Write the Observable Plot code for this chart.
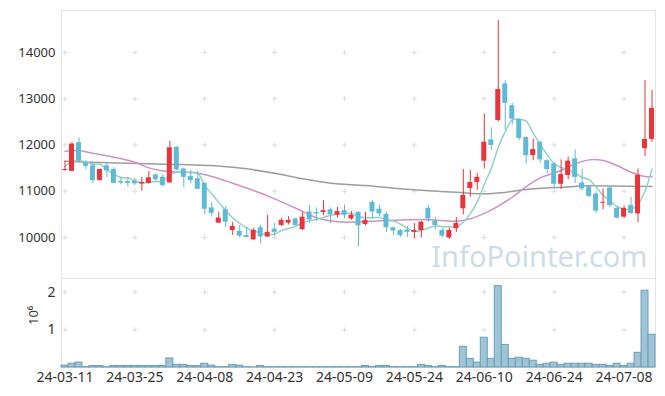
<!DOCTYPE html>
<html>
<head>
<meta charset="utf-8">
<script src="https://cdn.jsdelivr.net/npm/d3@7"></script>
<script src="https://cdn.jsdelivr.net/npm/@observablehq/plot@0.6"></script>
<style>
  body { margin: 0; background: #fff; }
  #chart { width: 665px; height: 396px; overflow: hidden; font-family: "Noto Sans", sans-serif; }
  #chart svg { display: block; }
  #chart svg.vol { margin-top: -1px; }
</style>
</head>
<body>
<div id="chart"></div>
<script>
// ---- data ----
const dates = [
  "24-03-11","24-03-12","24-03-13","24-03-14","24-03-15","24-03-18","24-03-19","24-03-20","24-03-21","24-03-22",
  "24-03-25","24-03-26","24-03-27","24-03-28","24-03-29","24-04-01","24-04-02","24-04-03","24-04-04","24-04-05",
  "24-04-08","24-04-09","24-04-11","24-04-12","24-04-15","24-04-16","24-04-17","24-04-18","24-04-19","24-04-22",
  "24-04-23","24-04-24","24-04-25","24-04-26","24-04-29","24-04-30","24-05-02","24-05-03","24-05-07","24-05-08",
  "24-05-09","24-05-10","24-05-13","24-05-14","24-05-16","24-05-17","24-05-20","24-05-21","24-05-22","24-05-23",
  "24-05-24","24-05-27","24-05-28","24-05-29","24-05-30","24-05-31","24-06-03","24-06-04","24-06-05","24-06-07",
  "24-06-10","24-06-11","24-06-12","24-06-13","24-06-14","24-06-17","24-06-18","24-06-19","24-06-20","24-06-21",
  "24-06-24","24-06-25","24-06-26","24-06-27","24-06-28","24-07-01","24-07-02","24-07-03","24-07-04","24-07-05",
  "24-07-08","24-07-09","24-07-10","24-07-11","24-07-12"
];
const open = [
  11450,11430,12050,11610,11550,11230,11550,11470,11210,11210,
  11220,11160,11170,11350,11300,11180,11950,11480,11320,11270,
  11170,10640,10310,10600,10150,10130,10040,9950,10210,10010,
  10180,10260,10310,10400,10170,10550,10540,10540,10600,10480,
  10580,10400,10540,10280,10760,10610,10500,10210,10150,10160,
  10110,10150,10630,10350,10150,9990,10190,10620,11060,11190,
  11650,12110,12530,13320,12850,12550,12160,11770,12060,11660,
  11590,11150,11340,11700,11180,11090,10940,10740,11070,10630,
  10440,10690,10510,11920,12120
];
const high = [
  11650,12050,12150,11660,11600,11480,11600,11510,11300,11300,
  11280,11300,11430,11380,11360,12080,11960,11500,11450,11430,
  11180,10760,10540,10670,10330,10260,10220,10200,10260,10480,
  10300,10420,10450,10410,10550,10690,10640,10800,10640,10650,
  10700,10560,10560,10540,10800,10700,10550,10220,10170,10240,
  10300,10350,10690,10440,10190,10200,10430,11470,11450,11380,
  12670,12370,14690,13390,12900,12570,12180,12130,12070,11680,
  11620,11680,11740,11890,11480,11110,10990,11050,11100,10660,
  10680,10870,11480,13390,13180
];
const low = [
  11430,11430,11620,11460,11160,11220,11300,11160,11140,11090,
  11120,11000,11150,11220,11090,11170,11440,11080,11160,11030,
  10490,10440,10300,10210,10040,9990,9990,9930,9860,10000,
  10030,10240,10270,10250,10150,10300,10340,10470,10300,10420,
  10400,10370,9790,10250,10400,10450,10110,10040,10000,10000,
  9980,9990,10330,10170,9990,9960,10110,10490,10870,11020,
  11480,11880,12500,12310,12430,12100,11590,11660,11610,11380,
  11070,11030,11250,11170,11010,10860,10520,10600,10650,10400,
  10410,10500,10320,11750,12060
];
const close = [
  11470,12020,11660,11540,11230,11470,11440,11170,11180,11170,
  11160,11190,11290,11250,11120,11940,11460,11300,11230,11040,
  10610,10520,10420,10330,10240,10030,10000,10150,10010,10110,
  10110,10370,10370,10260,10440,10380,10510,10580,10490,10560,
  10480,10480,10250,10370,10550,10510,10210,10140,10040,10110,
  10150,10330,10400,10260,10030,10150,10300,10910,11190,11300,
  12060,11990,13200,12900,12560,12140,11770,11900,11680,11470,
  11150,11360,11650,11300,11050,10890,10570,10760,10690,10420,
  10630,10520,11340,12120,12790
];
const volume = [
  50000,100000,130000,10000,40000,40000,10000,40000,40000,40000,
  40000,40000,40000,40000,40000,240000,70000,70000,40000,40000,
  100000,50000,10000,10000,70000,50000,10000,5000,40000,10000,
  10000,10000,10000,10000,10000,10000,10000,10000,10000,10000,
  10000,10000,10000,40000,10000,40000,40000,10000,10000,10000,
  10000,70000,40000,10000,40000,10000,10000,550000,230000,130000,
  790000,230000,2160000,600000,230000,260000,230000,180000,70000,100000,
  130000,70000,100000,100000,100000,100000,70000,70000,40000,100000,
  40000,100000,390000,2040000,870000
];
// 5-day moving average (teal), one value per day
const ma5 = [
  11533,11641,11663,11626,11584,11584,11468,11370,11298,11286,
  11224,11174,11198,11212,11202,11358,11412,11414,11410,11394,
  11128,10940,10764,10584,10424,10308,10204,10150,10086,10060,
  10076,10150,10194,10244,10310,10364,10392,10434,10480,10504,
  10524,10518,10452,10428,10426,10432,10378,10356,10290,10202,
  10130,10154,10206,10250,10234,10234,10228,10330,10516,10770,
  11152,11490,11948,12290,12542,12558,12514,12254,12010,11792,
  11594,11512,11462,11386,11302,11250,11092,10914,10792,10666,
  10614,10604,10720,11006,11480
];
// 20-day moving average (pink), read at these day indices
const ma20Day = [0,2,4,7,10,12,14,17,19,21,24,27,30,34,36,39,42,45,49,52,54,56,58,60,62,64,66,68,71,73,75,77,79,81,83,84];
const ma20 = [11864,11879,11821,11735,11626,11505,11440,11410,11390,11320,11173,11015,10836,10565,10425,10339,10335,10360,10382,10385,10367,10350,10404,10520,10680,10870,11100,11289,11447,11592,11678,11663,11555,11410,11317,11320];
// 60-day moving average (gray), read at these day indices
const ma60Day = [0,4,9,14,17,21,26,31,34,38,43,48,51,56,60,63,66,71,75,80,84];
const ma60 = [11648,11626,11605,11583,11577,11555,11484,11361,11270,11173,11123,11052,11020,10979,10944,10975,11035,11086,11116,11108,11101];

const priceTicks = [10000, 11000, 12000, 13000, 14000];
const volumeTicks = [1000000, 2000000];
const dateTicks = ["24-03-11","24-03-25","24-04-08","24-04-23","24-05-09","24-05-24","24-06-10","24-06-24","24-07-08"];
const watermark = "InfoPointer.com";

// ---- tables for the library ----
const candles = dates.map((d, i) => ({date: d, open: open[i], high: high[i], low: low[i], close: close[i], volume: volume[i]}));
const up = candles.filter(d => d.close >= d.open);
const down = candles.filter(d => d.close < d.open);
const ma5Data = dates.map((d, i) => ({date: d, v: ma5[i]}));
const ma20Data = ma20Day.map((k, i) => ({date: dates[k], v: ma20[i]}));
const ma60Data = ma60Day.map((k, i) => ({date: dates[k], v: ma60[i]}));
const priceGrid = dateTicks.flatMap(d => priceTicks.map(v => ({date: d, v})));
const volGrid = dateTicks.flatMap(d => volumeTicks.map(v => ({date: d, v})));

const RED = "#e8343a", BLUE = "#5fbad6";
const xBand = {type: "band", domain: dates, paddingInner: 0, paddingOuter: 0};
const W = 665, ML = 61, MR = 10;

const price = Plot.plot({
  width: W, height: 279, marginTop: 10, marginBottom: 1, marginLeft: ML, marginRight: MR,
  style: {fontFamily: '"Noto Sans", sans-serif', fontSize: "13px", color: "#333", background: "#fff"},
  x: {...xBand, axis: null},
  y: {domain: [9113, 14908], ticks: priceTicks, tickFormat: d => String(d), tickSize: 0, tickPadding: 6, label: null},
  marks: [
    Plot.frame({stroke: "#e4e4e4"}),
    Plot.dot(priceGrid, {x: "date", y: "v", symbol: "plus", r: 1.8, stroke: "#dddddd", strokeWidth: 1}),
    Plot.text([watermark], {text: d => d, frameAnchor: "bottom-right", textAnchor: "end", lineAnchor: "middle", dx: -8, dy: -21, fontSize: 29, fill: "#cddde7"}),
    Plot.line(ma60Data, {x: "date", y: "v", curve: "catmull-rom", stroke: "#9e9e9e", strokeWidth: 1.5}),
    Plot.line(ma20Data, {x: "date", y: "v", curve: "catmull-rom", stroke: "#cf92c7", strokeWidth: 1.5}),
    Plot.line(ma5Data, {x: "date", y: "v", curve: "catmull-rom", stroke: "#93d2c8", strokeWidth: 1.5}),
    Plot.ruleX(up, {x: "date", y1: "low", y2: "high", stroke: RED, strokeWidth: 1}),
    Plot.ruleX(down, {x: "date", y1: "low", y2: "high", stroke: BLUE, strokeWidth: 1}),
    Plot.barY(up, {x: "date", y1: "open", y2: "close", fill: RED, insetLeft: 1, insetRight: 1}),
    Plot.barY(down, {x: "date", y1: "open", y2: "close", fill: BLUE, insetLeft: 1, insetRight: 1})
  ]
});

const vol = Plot.plot({
  width: W, height: 118, marginTop: 0, marginBottom: 29, marginLeft: ML, marginRight: MR,
  style: {fontFamily: '"Noto Sans", sans-serif', fontSize: "14px", color: "#333", background: "#fff"},
  x: {...xBand, ticks: dateTicks, tickSize: 0, tickPadding: 5, label: null},
  y: {domain: [0, 2363000], ticks: volumeTicks, tickFormat: d => String(d / 1000000), tickSize: 0, tickPadding: 6, label: null},
  marks: [
    Plot.frame({stroke: "#e4e4e4"}),
    Plot.dot(volGrid, {x: "date", y: "v", symbol: "plus", r: 1.8, stroke: "#dddddd", strokeWidth: 1}),
    Plot.barY(candles, {x: "date", y: "volume", fill: "#9ec4d6", stroke: "#6a9fb8", strokeWidth: 1}),
    Plot.text(["10⁶"], {text: d => d, frameAnchor: "left", dx: -28, dy: 2, rotate: -90, fontSize: 13, fill: "#333"})
  ]
});
vol.setAttribute("class", (vol.getAttribute("class") || "") + " vol");

const root = document.getElementById("chart");
root.appendChild(price);
root.appendChild(vol);
</script>
</body>
</html>
